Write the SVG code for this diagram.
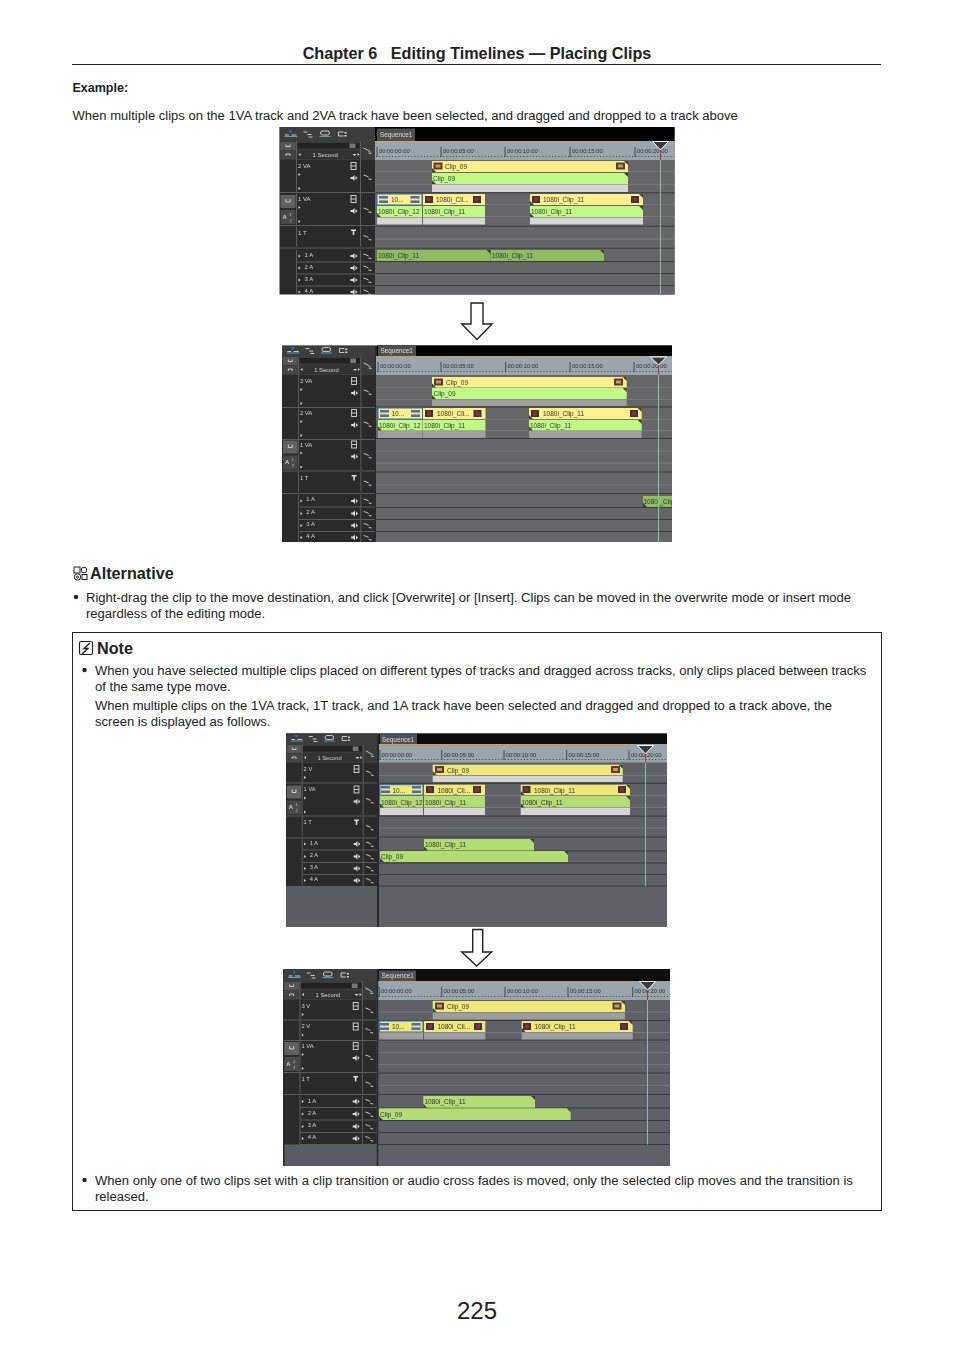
<svg xmlns="http://www.w3.org/2000/svg" width="954" height="1350" viewBox="0 0 954 1350">
<style>
text{font-family:"Liberation Sans",Arial,sans-serif}
.body{font-size:13.06px;fill:#222}
.h{font-size:16.2px;font-weight:bold;fill:#222}
.t{font-size:6px;fill:#d4d4d4}
.r{font-size:5.8px;fill:#2c3038}
.c{font-size:6.5px;fill:#333}
.sq{font-size:6.400px;fill:#ddd}
.panel{fill:#2b2b2b}
.sep{stroke:#5c5c5c;stroke-width:1;fill:none}
.tk{stroke:#3a3a3a;stroke-width:1;fill:none}
.sub{stroke:#7d7d7d;stroke-width:.8;fill:none}
.rul{fill:#9aa5ae}
.dot{stroke:#3c4450;stroke-width:1.2;stroke-dasharray:1 2.2;fill:none}
.big{stroke:#2c3038;stroke-width:.8}
.ph{stroke:#7fc0bc;stroke-width:1}
.ph2{stroke:#a03848;stroke-width:1}
.mk{fill:#3a3a3a;stroke:#fff;stroke-width:1}
.ic{fill:#ddd}
.ln{stroke:#ddd;stroke-width:.9;fill:none}
.y1{fill:#fdf08c}.g1{fill:#c0fa84}.a1{fill:#8fbc60}
.y2{fill:#f0e878}.g2{fill:#b4dc74}
.gl{fill:#d6d6d6}.gd{fill:#9e9e9e}
.cn{fill:#3c3c3c}
.arrow{fill:#fff;stroke:#222;stroke-width:1.4}
.scr{filter:url(#soft)}
</style>
<defs>
<filter id="soft" x="0" y="0" width="1" height="1"><feGaussianBlur stdDeviation=".28"/></filter>
<clipPath id="p1"><rect width="95.500" height="167.500"/></clipPath>
<clipPath id="p2"><rect width="95.500" height="196.500"/></clipPath>
<clipPath id="p3"><rect x="643" y="496" width="29" height="11"/></clipPath>
<path id="ctr" class="cn" d="M-4 0H0V4Z"/>
<path id="cbl" class="cn" d="M0 0L4 4H0Z"/>
<g id="th12"><rect width="9" height="7" fill="#5c6a80"/><rect y="2.500" width="9" height="2" fill="#d8dce4"/></g>
<g id="th11"><rect width="8" height="7" fill="#3a3438"/><rect x="2" y="1.500" width="4" height="4" fill="#8c2c48"/></g>
<g id="th9"><rect width="9" height="7" fill="#5a3c2c"/><rect x="2" y="2" width="5" height="3" fill="#c09878"/></g>
<path id="tri" class="ic" d="M0 0L2 1.500L0 3Z"/>
<path id="spk" class="ic" d="M-3 -1H-1L1 -3V3L-1 1H-3ZM2 -2L4 0L2 2Z"/>
<g id="film"><rect x="-2.500" y="-3.500" width="5" height="7" class="ln"/><path class="ln" d="M-2.500 0H2.500"/></g>
<path id="lnk" class="ln" d="M-4 -2L-1 -1L1 0M1 2L4 2.500"/>
<g id="tb">
<path d="M9 3.500h4l-2 3z" fill="#2a6ad0"/><path class="ln" d="M5.500 8h4M12 8h5"/><path d="M5 9.500h13" stroke="#60c0c0" stroke-width=".8"/>
<path class="ln" d="M24 5h4M28 7.500h4M29 10h4"/>
<rect x="41" y="4" width="9" height="4" rx="2" class="ln"/><path d="M40 9.500h11" stroke="#60c0c0" stroke-width=".8"/>
<path class="ln" stroke-width="1.400" d="M64 5h-5v4h5"/><rect x="65" y="5" width="2" height="1.500" class="ic"/><rect x="65" y="8" width="2" height="1.500" class="ic"/>
</g>
<g id="ctl">
<rect width="95.500" height="19" fill="#3a3a3a"/>
<rect x="1" y="1" width="15" height="8" fill="#555"/><rect x="1" y="10" width="15" height="8" fill="#444"/>
<path class="ln" stroke-width="1.200" d="M6.500 3.500v2h4v-2M6.500 15v-2h4v2"/>
<rect x="18" y="2" width="62" height="5.500" fill="#202020"/><rect x="70" y="2.500" width="6" height="4.500" fill="#777"/>
<rect x="18" y="9.500" width="62" height="8.500" fill="#333"/>
<path class="ic" d="M21 12v3l-2-1.500zM73 13h4l-2 2zM78 12v3l2-1.500z"/>
<text class="t" x="33" y="15.800">1 Second</text>
<path class="sep" d="M17 0V19M81 0V19"/>
<path class="ln" d="M84 7L88 9L91 11M89 12L92 12.500"/>
</g>
<g id="rv">
<path class="sep" d="M17 0V32M81 0V32M0 32.500H95.500"/>
<use href="#film" x="74" y="6"/><use href="#spk" x="74" y="18"/><use href="#tri" x="19" y="13"/><use href="#tri" x="19" y="27"/><use href="#lnk" x="88" y="17"/>
</g>
<g id="rv2">
<path class="sep" d="M17 0V20M81 0V20M0 20H95.500"/>
<use href="#film" x="74" y="6"/><use href="#tri" x="19" y="13"/><use href="#lnk" x="88" y="10"/>
</g>
<g id="rt">
<path class="sep" d="M17 0V20M81 0V20M0 21.500H95.500"/>
<path class="ic" d="M71.500 3h5v1.500h-1.700v4h-1.600v-4h-1.700z"/><use href="#lnk" x="88" y="11"/>
</g>
<g id="ra">
<path class="sep" d="M17 0V12M81 0V12M17 12H95.500"/>
<use href="#tri" x="19" y="4.500"/><use href="#spk" x="74" y="6"/><use href="#lnk" x="88" y="6"/>
</g>
<g id="hb">
<rect x="1" y="2" width="15" height="13" fill="#606060"/><rect x="1" y="17" width="15" height="14" fill="#484848"/>
<path class="ln" stroke-width="1.200" d="M6.500 6v3h4v-3"/>
<text class="t" x="3" y="26" font-weight="bold">A</text><text x="10" y="23" font-size="4" fill="#ccc">1</text><text x="10" y="29" font-size="4" fill="#ccc">2</text>
</g>
</defs>

<rect width="954" height="1350" fill="#fff"/>

<g id="page-header">
<text class="h" x="477" y="59" text-anchor="middle" xml:space="preserve">Chapter 6   Editing Timelines — Placing Clips</text>
<path d="M72 64.500H881" stroke="#222" stroke-width="1"/>
</g>
<text x="72.500" y="92" font-size="12.500" font-weight="bold" fill="#222">Example:</text>
<text class="body" x="72.500" y="120">When multiple clips on the 1VA track and 2VA track have been selected, and dragged and dropped to a track above</text>

<g id="screen-1" class="scr">
<rect x="279.500" y="127" width="395" height="167.500" class="panel"/>
<rect x="375" y="127" width="299.500" height="14" fill="#000"/>
<rect x="377" y="128.500" width="38" height="12.500" fill="#505050"/>
<text class="sq" x="380" y="137">Sequence1</text>
<rect x="375" y="141" width="299.500" height="19" class="rul"/>
<path d="M376 141.500H643" stroke="#c8a868" stroke-width="1.200"/>
<path class="dot" d="M376 156.500H674"/>
<path class="big" d="M377 147V157M441 147V157M505 147V157M570 147V157M635 147V157"/>
<g class="r"><text x="379" y="153">00:00:00:00</text><text x="443" y="153">00:00:05:00</text><text x="507" y="153">00:00:10:00</text><text x="572" y="153">00:00:15:00</text><text x="637" y="153">00:00:20:00</text></g>
<rect x="375" y="160" width="299.500" height="134.500" fill="#666668"/>
<path class="sub" d="M375 171.700H674M375 184.300H674M375 204.500H674M375 216.500H674M375 239H674"/>
<path class="tk" d="M375 192.800H674.500M375 226.200H674.500M375 248.200H674.500M375 261.500H674.500M375 273.500H674.500M375 285.500H674.500"/>
<g transform="translate(279.500 127)" clip-path="url(#p1)">
<rect width="95.500" height="14" fill="#3e3e3e"/><use href="#tb"/><use href="#ctl" y="14"/>
<use href="#rv" y="33"/><use href="#rv" y="66"/><use href="#rt" y="99.500"/><use href="#ra" y="123"/><use href="#ra" y="135"/><use href="#ra" y="147"/><use href="#ra" y="159"/>
<use href="#hb" y="66"/>
<g class="t"><text x="18.500" y="41">2 VA</text><text x="18.500" y="74">1 VA</text><text x="18.500" y="108">1 T</text><text x="25" y="130">1 A</text><text x="25" y="142">2 A</text><text x="25" y="154">3 A</text><text x="25" y="166">4 A</text></g>
</g>
<rect x="432" y="161" width="196" height="11" class="y1"/><rect x="432" y="173" width="196" height="11" class="g1"/><rect x="432" y="184.500" width="196" height="7.500" class="gl"/>
<use href="#ctr" x="628" y="161"/><use href="#cbl" x="432" y="168"/><use href="#ctr" x="628" y="173"/><use href="#cbl" x="432" y="180"/>
<use href="#th9" x="433.500" y="162.500"/><use href="#th9" x="616" y="162.500"/>
<text class="c" x="445" y="169">Clip_09</text><text class="c" x="433" y="181">Clip_09</text>
<rect x="377" y="194" width="45" height="11" class="y1" stroke="#2a6ac0"/><rect x="377" y="206" width="45" height="11" class="g1"/><rect x="377" y="217.500" width="45" height="7" class="gl"/>
<rect x="423" y="194" width="62" height="11" class="y1"/><rect x="423" y="206" width="62" height="11" class="g1"/><rect x="423" y="217.500" width="62" height="7" class="gl"/>
<rect x="530" y="194" width="113" height="11" class="y1"/><rect x="530" y="206" width="113" height="11" class="g1"/><rect x="530" y="217.500" width="113" height="7" class="gl"/>
<use href="#ctr" x="643" y="194"/><use href="#cbl" x="530" y="201"/><use href="#ctr" x="643" y="206"/><use href="#cbl" x="530" y="213"/><use href="#cbl" x="377" y="213"/>
<use href="#th12" x="379" y="196"/><use href="#th12" x="410.500" y="196"/><use href="#th11" x="425" y="196"/><use href="#th11" x="473" y="196"/><use href="#th11" x="532" y="196"/><use href="#th11" x="631" y="196"/>
<text class="c" x="391" y="201.500">10...</text><text class="c" x="436" y="201.500">1080i_Cli...</text><text class="c" x="543" y="201.500">1080i_Clip_11</text>
<text class="c" x="378" y="213.500">1080i_Clip_12</text><text class="c" x="424" y="213.500">1080i_Clip_11</text><text class="c" x="531" y="213.500">1080i_Clip_11</text>
<rect x="377" y="250" width="113.500" height="11" class="a1"/><rect x="491" y="250" width="113" height="11" class="a1"/>
<use href="#ctr" x="490.500" y="250"/><use href="#ctr" x="604" y="250"/>
<text class="c" x="378" y="257.500">1080i_Clip_11</text><text class="c" x="492" y="257.500">1080i_Clip_11</text>
<path class="ph2" d="M660.500 150V160"/><path class="ph" d="M660.500 160V294.500"/><path class="mk" d="M652.500 141.500L660.500 150L668.500 141.500Z"/>
</g>

<path id="arrow-1" class="arrow" d="M471 303H483V324H492L477 339.500L461.700 324H471Z"/>

<g id="screen-2" class="scr">
<rect x="282" y="345.500" width="390" height="196.500" class="panel"/>
<rect x="377" y="345.500" width="295" height="10.500" fill="#000"/>
<rect x="378" y="346" width="38" height="10" fill="#505050"/>
<text class="sq" x="380.500" y="353">Sequence1</text>
<rect x="376" y="356" width="296" height="19" class="rul"/>
<path d="M377 357H642" stroke="#d0a060" stroke-width="1"/>
<path class="dot" d="M377 371.500H672"/>
<path class="big" d="M378 362V372M441 362V372M505.700 362V372M570 362V372M634 362V372"/>
<g class="r"><text x="380" y="368">00:00:00:00</text><text x="443" y="368">00:00:05:00</text><text x="507.500" y="368">00:00:10:00</text><text x="572" y="368">00:00:15:00</text><text x="636" y="368">00:00:20:00</text></g>
<rect x="376" y="375" width="296" height="167" fill="#666668"/>
<path class="sub" d="M376 387.500H672M376 399.500H672M376 419.500H672M376 430.500H672M376 451H672M376 463H672M376 485H672"/>
<path class="tk" d="M376 407H672M376 438.500H672M376 472H672M376 493.500H672M376 507.500H672M376 519.500H672M376 531.500H672"/>
<g transform="translate(282 345.500) scale(.974 1)" clip-path="url(#p2)">
<rect width="95.500" height="10.500" fill="#3e3e3e"/><use href="#tb" y="-2"/><use href="#ctl" y="10.500"/>
<use href="#rv" y="29.500"/><use href="#rv" y="61.500"/><use href="#rv" y="93"/><use href="#rt" y="126.500"/><use href="#ra" y="149.500"/><use href="#ra" y="162"/><use href="#ra" y="174"/><use href="#ra" y="186"/>
<use href="#hb" y="93"/>
<g class="t"><text x="18.500" y="38">3 VA</text><text x="18.500" y="70">2 VA</text><text x="18.500" y="102">1 VA</text><text x="18.500" y="135">1 T</text><text x="25" y="156">1 A</text><text x="25" y="168.500">2 A</text><text x="25" y="180.500">3 A</text><text x="25" y="192.500">4 A</text></g>
</g>
<rect x="432" y="377" width="194.700" height="10.500" class="y1"/><rect x="432" y="388" width="194.700" height="11" class="g1"/><rect x="432" y="399.500" width="194.700" height="6.500" class="gd"/>
<use href="#ctr" x="626.700" y="377"/><use href="#cbl" x="432" y="383.500"/><use href="#ctr" x="626.700" y="388"/><use href="#cbl" x="432" y="395"/>
<use href="#th9" x="434" y="378.500"/><use href="#th9" x="614" y="378.500"/>
<text class="c" x="446" y="384.500">Clip_09</text><text class="c" x="433.500" y="396">Clip_09</text>
<rect x="378" y="408" width="44.500" height="11" class="y1" stroke="#2a6ac0"/><rect x="378" y="420" width="44.500" height="10.500" class="g1"/><rect x="378" y="431" width="44.500" height="7" class="gd"/>
<rect x="423" y="408" width="62.500" height="11" class="y1"/><rect x="423" y="420" width="62.500" height="10.500" class="g1"/><rect x="423" y="431" width="62.500" height="7" class="gd"/>
<rect x="529" y="408" width="112.700" height="11" class="y1"/><rect x="529" y="420" width="112.700" height="10.500" class="g1"/><rect x="529" y="431" width="112.700" height="7" class="gd"/>
<use href="#ctr" x="641.700" y="408"/><use href="#cbl" x="529" y="415"/><use href="#ctr" x="641.700" y="420"/><use href="#cbl" x="529" y="426.500"/><use href="#cbl" x="378" y="426.500"/>
<use href="#th12" x="380" y="410"/><use href="#th12" x="411" y="410"/><use href="#th11" x="425" y="410"/><use href="#th11" x="473.500" y="410"/><use href="#th11" x="531" y="410"/><use href="#th11" x="630" y="410"/>
<text class="c" x="391.500" y="415.500">10...</text><text class="c" x="437" y="415.500">1080i_Cli...</text><text class="c" x="543" y="415.500">1080i_Clip_11</text>
<text class="c" x="379" y="427.500">1080i_Clip_12</text><text class="c" x="424" y="427.500">1080i_Clip_11</text><text class="c" x="530" y="427.500">1080i_Clip_11</text>
<rect x="643" y="496" width="29" height="11" class="a1"/><use href="#cbl" x="643" y="503"/>
<text class="c" x="643.500" y="503.500" clip-path="url(#p3)">1080i_Clip</text>
<path class="ph2" d="M658.500 365V375"/><path class="ph" d="M658.500 375V542"/><path class="mk" d="M650.500 357L658.500 365L666.500 357Z"/>
</g>

<g id="alternative">
<g fill="none" stroke="#222" stroke-width="1"><rect x="74" y="567" width="6" height="6"/><circle cx="84" cy="570" r="2.800"/><circle cx="77.500" cy="577" r="3.200"/><rect x="82" y="574.500" width="5" height="5"/><circle cx="77.500" cy="577" r="1"/></g>
<text class="h" x="90" y="579">Alternative</text>
<circle cx="76" cy="597" r="2.200" fill="#222"/>
<text class="body" x="86" y="602">Right-drag the clip to the move destination, and click [Overwrite] or [Insert]. Clips can be moved in the overwrite mode or insert mode</text>
<text class="body" x="86" y="618">regardless of the editing mode.</text>
</g>

<g id="note">
<rect x="72.500" y="632.500" width="809" height="578" fill="none" stroke="#222" stroke-width="1"/>
<rect x="79.500" y="641.500" width="13" height="13" rx="1.500" fill="none" stroke="#222" stroke-width="1.200"/>
<path d="M90 643L84 648.500H88L82 654" fill="none" stroke="#222" stroke-width="1.400"/>
<text class="h" x="97" y="654">Note</text>
<circle cx="84.500" cy="670" r="2.200" fill="#222"/>
<text class="body" x="95" y="675">When you have selected multiple clips placed on different types of tracks and dragged across tracks, only clips placed between tracks</text>
<text class="body" x="95" y="691">of the same type move.</text>
<text class="body" x="95" y="710">When multiple clips on the 1VA track, 1T track, and 1A track have been selected and dragged and dropped to a track above, the</text>
<text class="body" x="95" y="726">screen is displayed as follows.</text>
<circle cx="84.500" cy="1180" r="2.200" fill="#222"/>
<text class="body" x="95" y="1185">When only one of two clips set with a clip transition or audio cross fades is moved, only the selected clip moves and the transition is</text>
<text class="body" x="95" y="1201">released.</text>
</g>

<g id="screen-3" class="scr">
<rect x="286" y="733.500" width="381" height="193.500" fill="#5a5c64"/>
<rect x="286" y="733.500" width="91" height="152.500" class="panel"/>
<rect x="379" y="733.500" width="288" height="10.500" fill="#0a0a0a"/>
<rect x="380" y="734" width="37" height="10" fill="#505058"/>
<text class="sq" x="382" y="742">Sequence1</text>
<rect x="379" y="744" width="288" height="18.700" class="rul"/>
<path d="M380 745.500H630" stroke="#e09030" stroke-width="1.200"/>
<path class="dot" d="M380 759.500H667"/>
<path class="big" d="M380 750V760M441.700 750V760M504 750V760M566.700 750V760M629 750V760"/>
<g class="r"><text x="381.500" y="757">00:00:00:00</text><text x="443.500" y="757">00:00:05:00</text><text x="505.500" y="757">00:00:10:00</text><text x="568.500" y="757">00:00:15:00</text><text x="631" y="757">00:00:20:00</text></g>
<rect x="379" y="762.700" width="288" height="164.300" fill="#5e6068"/>
<path class="sub" d="M379 775.500H667M379 795.500H667M379 807.500H667M379 828H667"/>
<path class="tk" d="M379 783.300H667M379 816.200H667M379 837H667M379 851H667M379 863H667M379 874.500H667M379 886H667"/>
<path d="M378 733.500V927" stroke="#2b2b2b" stroke-width="2"/>
<g transform="translate(286 733.500) scale(.953 1)">
<rect width="95.500" height="10.500" fill="#3e3e3e"/><use href="#tb" y="-2"/><use href="#ctl" y="10.500"/>
<use href="#rv2" y="29.500"/><use href="#rv" y="50"/><use href="#rt" y="83"/><use href="#ra" y="104.500"/><use href="#ra" y="117"/><use href="#ra" y="129"/><use href="#ra" y="141"/>
<use href="#hb" y="50"/>
<g class="t"><text x="18.500" y="38">2 V</text><text x="18.500" y="58">1 VA</text><text x="18.500" y="91">1 T</text><text x="25" y="112">1 A</text><text x="25" y="124">2 A</text><text x="25" y="136">3 A</text><text x="25" y="148">4 A</text></g>
</g>
<rect x="432.700" y="764.700" width="190" height="10.500" class="y2"/><rect x="432.700" y="776" width="190" height="6" class="gl"/>
<use href="#ctr" x="622.700" y="764.700"/><use href="#cbl" x="432.700" y="771"/>
<use href="#th9" x="435" y="766"/><use href="#th9" x="611" y="766"/>
<text class="c" x="447" y="772.500">Clip_09</text>
<rect x="380" y="784.700" width="43" height="10.500" class="y2" stroke="#2a6ac0"/><rect x="380" y="796" width="43" height="11.500" class="g2"/><rect x="380" y="808" width="43" height="7" class="gl"/>
<rect x="424" y="784.700" width="61" height="10.500" class="y2"/><rect x="424" y="796" width="61" height="11.500" class="g2"/><rect x="424" y="808" width="61" height="7" class="gl"/>
<rect x="520.700" y="784.700" width="109.300" height="10.500" class="y2"/><rect x="520.700" y="796" width="109.300" height="11.500" class="g2"/><rect x="520.700" y="808" width="109.300" height="7" class="gl"/>
<use href="#ctr" x="630" y="784.700"/><use href="#cbl" x="520.700" y="791"/><use href="#ctr" x="630" y="796"/><use href="#cbl" x="520.700" y="803.500"/><use href="#cbl" x="380" y="803.500"/>
<use href="#th12" x="381" y="786"/><use href="#th12" x="412" y="786"/><use href="#th11" x="426" y="786"/><use href="#th11" x="473" y="786"/><use href="#th11" x="522.500" y="786"/><use href="#th11" x="618" y="786"/>
<text class="c" x="392.500" y="792.500">10...</text><text class="c" x="437.500" y="792.500">1080i_Cli...</text><text class="c" x="534" y="792.500">1080i_Clip_11</text>
<text class="c" x="381" y="804.500">1080i_Clip_12</text><text class="c" x="425" y="804.500">1080i_Clip_11</text><text class="c" x="521.500" y="804.500">1080i_Clip_11</text>
<rect x="424" y="839" width="110" height="11.500" class="g2"/><rect x="380" y="851" width="188" height="11" class="g2"/>
<use href="#ctr" x="534" y="839"/><use href="#cbl" x="424" y="846.500"/><use href="#ctr" x="568" y="851"/><use href="#cbl" x="380" y="858"/>
<text class="c" x="425" y="846.500">1080i_Clip_11</text><text class="c" x="381" y="858.500">Clip_09</text>
<path class="ph2" d="M645.500 754V763"/><path class="ph" d="M645.500 763V886"/><path class="mk" d="M637.500 745.500L645.500 754L653.500 745.500Z"/>
</g>

<path id="arrow-2" class="arrow" d="M472.700 929.500H482.700V952H491.700L476.700 966L461.700 952H472.700Z"/>

<g id="screen-4" class="scr">
<rect x="283.300" y="969" width="386.700" height="197" fill="#5a5c64"/>
<rect x="283.300" y="969" width="93.400" height="175.500" class="panel"/>
<rect x="378" y="969" width="292" height="12" fill="#0a0a0a"/>
<rect x="379" y="970.500" width="37" height="10.500" fill="#505058"/>
<text class="sq" x="381.500" y="978">Sequence1</text>
<rect x="378" y="981" width="292" height="19" class="rul"/>
<path d="M379 981.500H632" stroke="#c89858" stroke-width="1"/>
<path class="dot" d="M379 996.500H670"/>
<path class="big" d="M379.300 987V997M441.700 987V997M505 987V997M568 987V997M632.700 987V997"/>
<g class="r"><text x="381" y="993">00:00:00:00</text><text x="443.500" y="993">00:00:05:00</text><text x="507" y="993">00:00:10:00</text><text x="570" y="993">00:00:15:00</text><text x="634.500" y="993">00:00:20:00</text></g>
<rect x="378" y="1000" width="292" height="166" fill="#5e6068"/>
<path class="sub" d="M378 1012H670M378 1032.500H670M378 1052.500H670M378 1064.500H670M378 1085.500H670"/>
<path class="tk" d="M378 1020.500H670M378 1040H670M378 1073H670M378 1094.500H670M378 1108H670M378 1120.500H670M378 1132.500H670M378 1144.500H670"/>
<path d="M377.500 969V1166M283.800 969V1166" stroke="#2b2b2b" stroke-width="1.600"/>
<g transform="translate(283.300 969) scale(.978 1)">
<rect width="95.500" height="12" fill="#3e3e3e"/><use href="#tb" y="-1"/><use href="#ctl" y="12"/>
<use href="#rv2" y="31"/><use href="#rv2" y="51.500"/><use href="#rv" y="71"/><use href="#rt" y="104"/><use href="#ra" y="126.500"/><use href="#ra" y="139"/><use href="#ra" y="151.500"/><use href="#ra" y="163.500"/>
<use href="#hb" y="71"/>
<g class="t"><text x="18.500" y="39.500">3 V</text><text x="18.500" y="59.500">2 V</text><text x="18.500" y="79.500">1 VA</text><text x="18.500" y="112.500">1 T</text><text x="25" y="134">1 A</text><text x="25" y="146.500">2 A</text><text x="25" y="158.500">3 A</text><text x="25" y="170.500">4 A</text></g>
</g>
<rect x="432.700" y="1001" width="192.300" height="11" class="y2"/><rect x="432.700" y="1012.500" width="192.300" height="7" class="gd"/>
<use href="#ctr" x="625" y="1001"/><use href="#cbl" x="432.700" y="1008"/>
<use href="#th9" x="435" y="1002.500"/><use href="#th9" x="612.500" y="1002.500"/>
<text class="c" x="447" y="1009">Clip_09</text>
<rect x="379.300" y="1021" width="43.700" height="11" class="y2" stroke="#2a6ac0"/><rect x="379.300" y="1032.500" width="43.700" height="7" class="gd"/>
<rect x="424" y="1021" width="61.300" height="11" class="y2"/><rect x="424" y="1032.500" width="61.300" height="7" class="gd"/>
<rect x="521.700" y="1021" width="111" height="11" class="y2"/><rect x="521.700" y="1032.500" width="111" height="7" class="gd"/>
<use href="#ctr" x="632.700" y="1021"/><use href="#cbl" x="521.700" y="1028"/>
<use href="#th12" x="380" y="1023"/><use href="#th12" x="411.500" y="1023"/><use href="#th11" x="426" y="1023"/><use href="#th11" x="474" y="1023"/><use href="#th11" x="523" y="1023"/><use href="#th11" x="620" y="1023"/>
<text class="c" x="392" y="1029">10...</text><text class="c" x="437.500" y="1029">1080i_Cli...</text><text class="c" x="534.500" y="1029">1080i_Clip_11</text>
<rect x="423.300" y="1096" width="111.700" height="11.700" class="g2"/><rect x="379" y="1108.300" width="191.700" height="11.700" class="g2"/>
<use href="#ctr" x="535" y="1096"/><use href="#cbl" x="423.300" y="1103.700"/><use href="#ctr" x="570.700" y="1108.300"/><use href="#cbl" x="379" y="1116"/>
<text class="c" x="424.500" y="1104">1080i_Clip_11</text><text class="c" x="380" y="1116.500">Clip_09</text>
<path class="ph2" d="M647.500 990V1000"/><path class="ph" d="M647.500 1000V1144.500"/><path class="mk" d="M639.500 981.500L647.500 990L655.500 981.500Z"/>
</g>

<text id="page-number" x="477" y="1319" font-size="24" text-anchor="middle" fill="#222">225</text>
</svg>
